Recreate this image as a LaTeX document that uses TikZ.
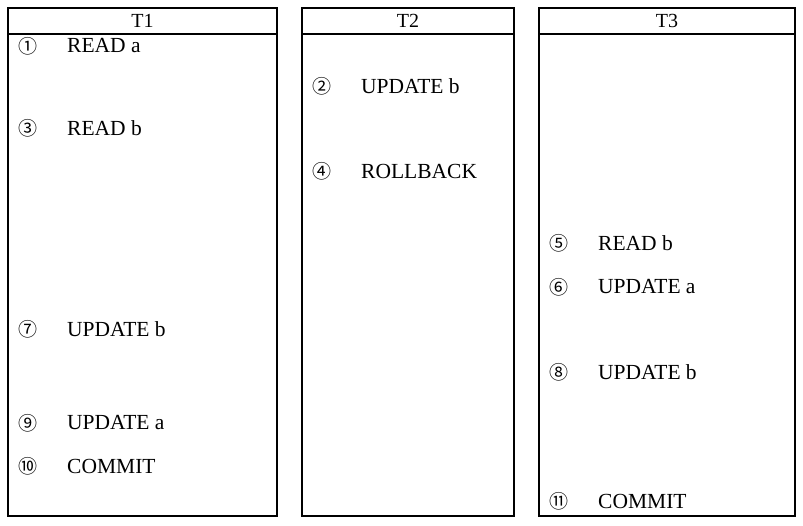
\documentclass[tikz,border=0pt]{standalone}
\usepackage{fontspec}
\setmainfont{Liberation Serif}
\newfontfamily\circfont{Noto Sans CJK JP}

\begin{document}
\begin{tikzpicture}[x=1pt,y=-1pt]
    % Styling
    \tikzset{
        t_box/.style={draw=black, line width=1.2pt},
        t_head/.style={font=\fontsize{20}{20}\selectfont, inner sep=0pt},
        t_num/.style={font=\circfont\fontsize{19}{19}\selectfont, inner sep=0pt},
        t_op/.style={font=\fontsize{21.5}{21.5}\selectfont, anchor=west, inner sep=0pt}
    }
    \useasboundingbox (0,0) rectangle (803,526);

    % Transaction boxes
    \foreach \t/\xl/\xr in {T1/8/277, T2/302/514, T3/539/795} {
        \draw[t_box] (\xl,8) rectangle (\xr,516);
        \draw[t_box] (\xl,34) -- (\xr,34);
        \node[t_head] (head\t) at ({(\xl+\xr)/2},21) {\t};
    }

    % Steps
    \foreach \n/\c/\x/\y/\op in {1/①/28/46/READ a, 2/②/322/86/UPDATE b,
        3/③/28/128/READ b, 4/④/322/171/ROLLBACK, 5/⑤/559/243/READ b,
        6/⑥/559/287/UPDATE a, 7/⑦/28/329/UPDATE b, 8/⑧/559/372/UPDATE b,
        9/⑨/28/423/UPDATE a, 10/⑩/28/466/COMMIT, 11/⑪/559/501/COMMIT} {
        \node[t_num] (num\n) at (\x,\y) {\c};
        \node[t_op] (op\n) at (\x+39,\y) {\op};
    }
\end{tikzpicture}
\end{document}
